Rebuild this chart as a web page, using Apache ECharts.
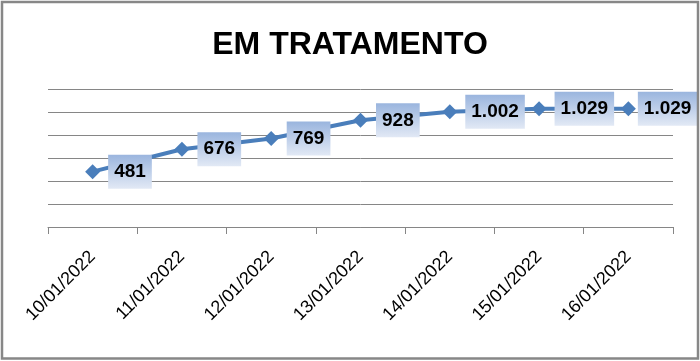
<!DOCTYPE html>
<html>
<head>
<meta charset="utf-8">
<script src="https://cdn.jsdelivr.net/npm/echarts@6/dist/echarts.min.js"></script>
<style>html,body{margin:0;padding:0;background:#fff}#c{width:700px;height:361px}</style>
</head>
<body>
<div id="c"></div>
<script>
var titleText = 'EM TRATAMENTO';
var categories = ['10/01/2022','11/01/2022','12/01/2022','13/01/2022','14/01/2022','15/01/2022','16/01/2022'];
var values = [481, 676, 769, 928, 1002, 1029, 1029];
var yMin = 0, yMax = 1200, yStep = 200;

function fmt(v){ return v >= 1000 ? Math.floor(v/1000) + '.' + String(v%1000).padStart(3,'0') : String(v); }

var seriesData = values.map(function(v, i){
  return i === values.length - 1 ? {value: v, label: {distance: 2}} : v;
});

var chart = echarts.init(document.getElementById('c'), null, {renderer:'canvas'});
chart.setOption({
  animation: false,
  backgroundColor: '#fff',
  title: {
    text: titleText, left: 'center', top: 24,
    textStyle: {fontFamily: 'Liberation Sans', fontWeight: 'bold', fontSize: 32, color: '#000'}
  },
  graphic: [{
    type: 'rect', shape: {x: 2, y: 2, width: 696, height: 356.5},
    style: {fill: 'none', stroke: '#878787', lineWidth: 2.5}, silent: true, z: 100
  }],
  grid: {left: 48, right: 27, top: 89, bottom: 134, containLabel: false},
  xAxis: {
    type: 'category', data: categories, boundaryGap: true,
    axisLine: {lineStyle: {color: '#868686', width: 1}},
    axisTick: {show: true, length: 7, lineStyle: {color: '#868686'}},
    axisLabel: {rotate: 45, margin: 27, color: '#000', fontFamily: 'Liberation Sans', fontSize: 18}
  },
  yAxis: {
    type: 'value', min: yMin, max: yMax, interval: yStep,
    axisLabel: {show: false}, axisLine: {show: false}, axisTick: {show: false},
    splitLine: {lineStyle: {color: '#868686', width: 1}}
  },
  series: [{
    type: 'line', data: seriesData,
    lineStyle: {color: '#4a7ebb', width: 4},
    itemStyle: {color: '#4a7ebb'},
    symbol: 'diamond', symbolSize: 15,
    label: {
      show: true, position: 'right', distance: 8,
      formatter: function(p){ return fmt(p.value); },
      fontFamily: 'Liberation Sans', fontWeight: 'bold', fontSize: 19, color: '#000',
      padding: [8, 6, 7, 6],
      backgroundColor: new echarts.graphic.LinearGradient(0, 0, 0, 1, [
        {offset: 0, color: '#9ab5de'}, {offset: 1, color: '#e2e9f5'}
      ])
    }
  }]
});
</script>
</body>
</html>
